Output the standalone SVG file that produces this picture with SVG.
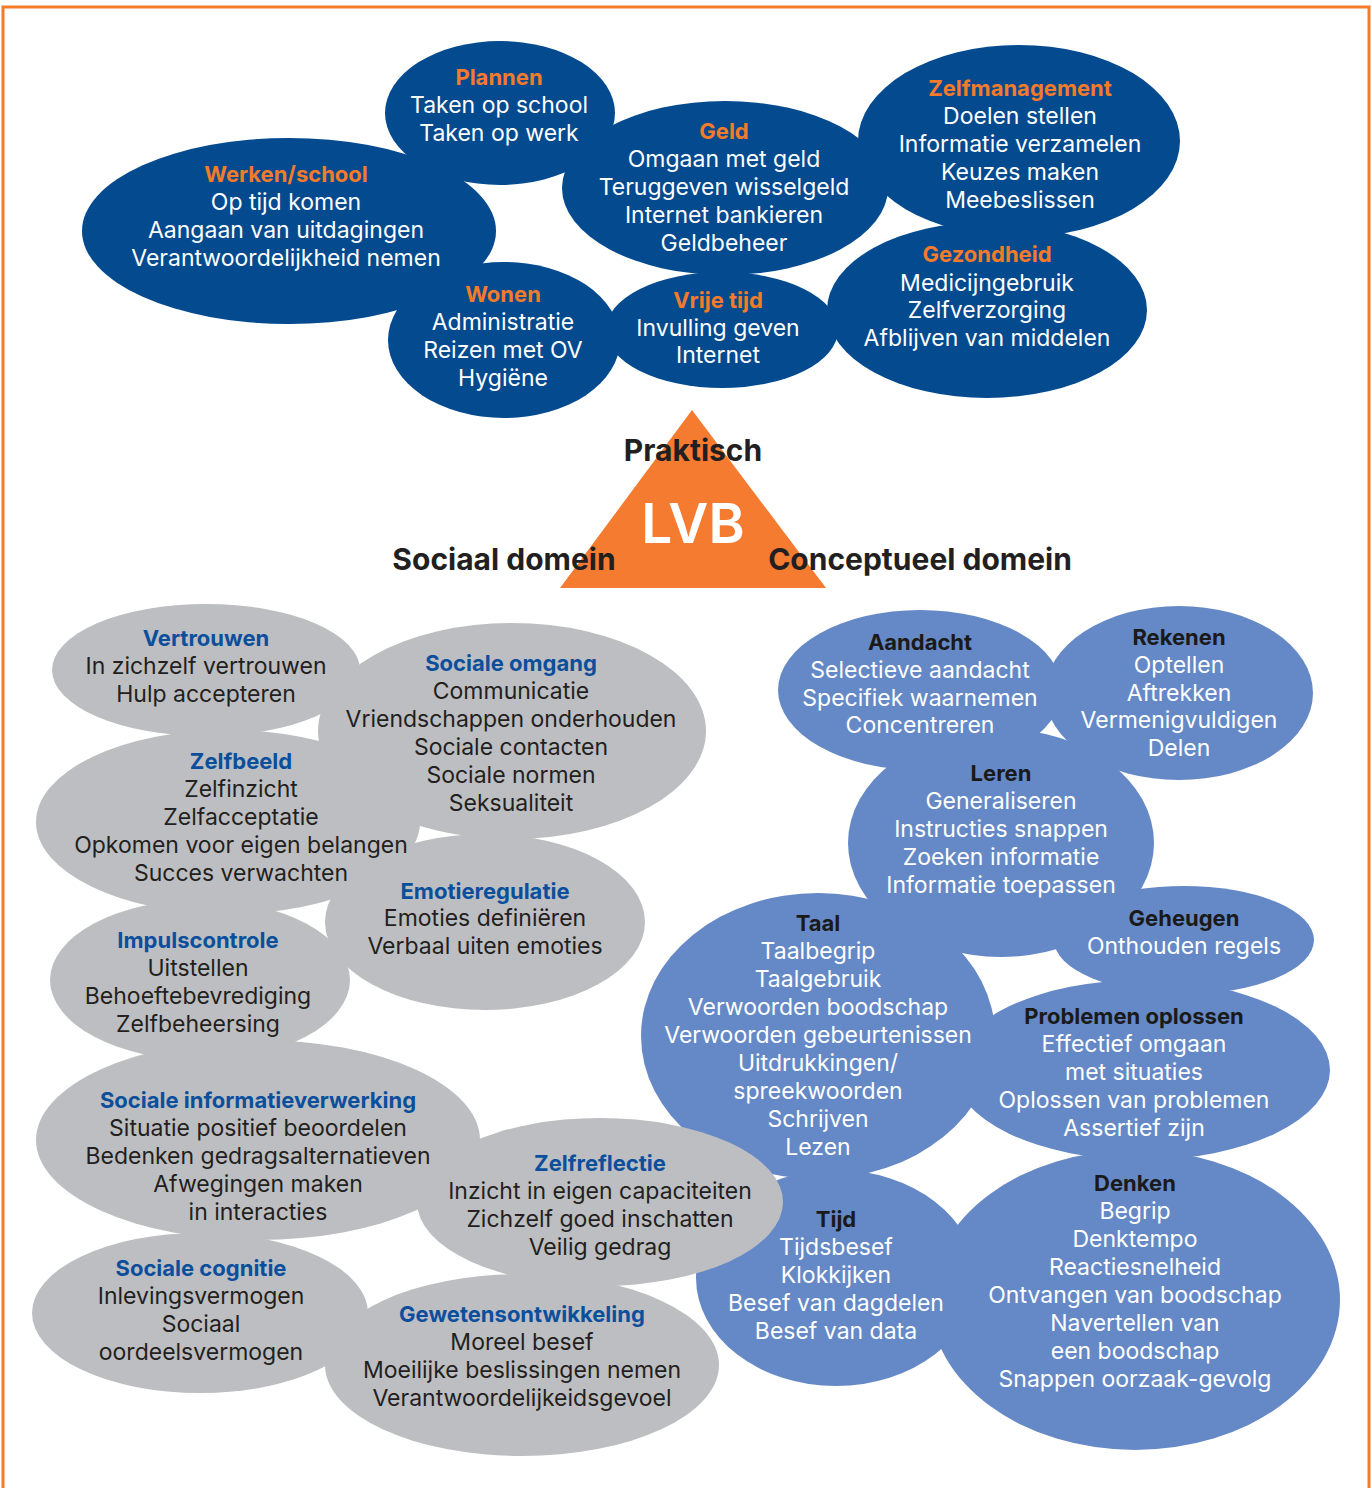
<svg xmlns="http://www.w3.org/2000/svg" width="1371" height="1488" viewBox="0 0 1371 1488">
<style>
text{font-family:Inter,"Liberation Sans",sans-serif;font-size:23px;text-anchor:middle}
.dk{fill:#034a8f}
.gr{fill:#bdbec1}
.lb{fill:#6589c6}
.ot{fill:#f47b2a;font-weight:bold;font-size:22px}
.wt{fill:#ffffff}
.bt{fill:#0b4f9c;font-weight:bold;font-size:22px}
.kt{fill:#231f20}
.ht{fill:#1a1a1a;font-weight:bold;font-size:22px}
.big{fill:#231f20;font-weight:bold;font-size:30px}
</style>
<rect x="3" y="7" width="1366" height="1490" fill="#ffffff" stroke="#f47b2a" stroke-width="3"/>

<g id="praktisch-ellipses">
<g id="plannen"><ellipse class="dk" cx="500" cy="113" rx="115" ry="72"/></g>
<g id="werken"><ellipse class="dk" cx="289" cy="231" rx="207" ry="93"/></g>
<g id="geld"><ellipse class="dk" cx="725" cy="188" rx="163" ry="87"/></g>
<g id="zelfmanagement"><ellipse class="dk" cx="1019" cy="141" rx="161" ry="96"/></g>
<g id="wonen"><ellipse class="dk" cx="504" cy="340" rx="116" ry="78"/></g>
<g id="vrijetijd"><ellipse class="dk" cx="722" cy="330" rx="116" ry="58"/></g>
<g id="gezondheid"><ellipse class="dk" cx="987" cy="310" rx="160" ry="88"/></g>
</g>
<g id="praktisch-text">
<text class="ot" x="499" y="85">Plannen</text>
<text class="wt" x="499" y="113">Taken op school</text>
<text class="wt" x="499" y="141">Taken op werk</text>
<text class="ot" x="286" y="182">Werken/school</text>
<text class="wt" x="286" y="210">Op tijd komen</text>
<text class="wt" x="286" y="238">Aangaan van uitdagingen</text>
<text class="wt" x="286" y="266">Verantwoordelijkheid nemen</text>
<text class="ot" x="724" y="139">Geld</text>
<text class="wt" x="724" y="167">Omgaan met geld</text>
<text class="wt" x="724" y="195">Teruggeven wisselgeld</text>
<text class="wt" x="724" y="223">Internet bankieren</text>
<text class="wt" x="724" y="251">Geldbeheer</text>
<text class="ot" x="1020" y="96">Zelfmanagement</text>
<text class="wt" x="1020" y="124">Doelen stellen</text>
<text class="wt" x="1020" y="152">Informatie verzamelen</text>
<text class="wt" x="1020" y="180">Keuzes maken</text>
<text class="wt" x="1020" y="208">Meebeslissen</text>
<text class="ot" x="987" y="262">Gezondheid</text>
<text class="wt" x="987" y="291">Medicijngebruik</text>
<text class="wt" x="987" y="318">Zelfverzorging</text>
<text class="wt" x="987" y="346">Afblijven van middelen</text>
<text class="ot" x="503" y="302">Wonen</text>
<text class="wt" x="503" y="330">Administratie</text>
<text class="wt" x="503" y="358">Reizen met OV</text>
<text class="wt" x="503" y="386">Hygiëne</text>
<text class="ot" x="718" y="308">Vrije tijd</text>
<text class="wt" x="718" y="336">Invulling geven</text>
<text class="wt" x="718" y="363">Internet</text>
</g>

<g id="lvb">
<polygon points="692,410 560,588 826,588" fill="#f47b30"/>
<text class="big" x="693" y="461">Praktisch</text>
<text x="693" y="543" style="fill:#ffffff;font-size:55px;font-weight:600">LVB</text>
<text class="big" x="504" y="570">Sociaal domein</text>
<text class="big" x="920" y="570">Conceptueel domein</text>
</g>

<g id="conceptueel-ellipses">
<g id="aandacht"><ellipse class="lb" cx="920" cy="690" rx="142" ry="80"/></g>
<g id="rekenen"><ellipse class="lb" cx="1179" cy="693" rx="134" ry="87"/></g>
<g id="leren"><ellipse class="lb" cx="1001" cy="843" rx="153" ry="114"/></g>
<g id="geheugen"><ellipse class="lb" cx="1184" cy="940" rx="130" ry="54"/></g>
<g id="taal"><ellipse class="lb" cx="818" cy="1036" rx="177" ry="143"/></g>
<g id="problemen"><ellipse class="lb" cx="1142" cy="1070" rx="188" ry="90"/></g>
<g id="tijd"><ellipse class="lb" cx="836" cy="1278" rx="140" ry="108"/></g>
<g id="denken"><ellipse class="lb" cx="1135" cy="1300" rx="205" ry="150"/></g>
</g>

<g id="sociaal-ellipses">
<g id="vertrouwen"><ellipse class="gr" cx="206" cy="670" rx="154" ry="66"/></g>
<g id="socialeomgang"><ellipse class="gr" cx="512" cy="731" rx="194" ry="108"/></g>
<g id="zelfbeeld"><ellipse class="gr" cx="228" cy="822" rx="192" ry="92"/></g>
<g id="emotieregulatie"><ellipse class="gr" cx="485" cy="922" rx="160" ry="88"/></g>
<g id="impulscontrole"><ellipse class="gr" cx="200" cy="980" rx="150" ry="80"/></g>
<g id="socinfo"><ellipse class="gr" cx="258" cy="1140" rx="222" ry="100"/></g>
<g id="zelfreflectie"><ellipse class="gr" cx="600" cy="1202" rx="183" ry="84"/></g>
<g id="socialecognitie"><ellipse class="gr" cx="200" cy="1313" rx="168" ry="80"/></g>
<g id="geweten"><ellipse class="gr" cx="522" cy="1365" rx="197" ry="91"/></g>
</g>

<g id="sociaal-text">
<text class="bt" x="206" y="646">Vertrouwen</text>
<text class="kt" x="206" y="674">In zichzelf vertrouwen</text>
<text class="kt" x="206" y="702">Hulp accepteren</text>
<text class="bt" x="511" y="671">Sociale omgang</text>
<text class="kt" x="511" y="699">Communicatie</text>
<text class="kt" x="511" y="727">Vriendschappen onderhouden</text>
<text class="kt" x="511" y="755">Sociale contacten</text>
<text class="kt" x="511" y="783">Sociale normen</text>
<text class="kt" x="511" y="811">Seksualiteit</text>
<text class="bt" x="241" y="769">Zelfbeeld</text>
<text class="kt" x="241" y="797">Zelfinzicht</text>
<text class="kt" x="241" y="825">Zelfacceptatie</text>
<text class="kt" x="241" y="853">Opkomen voor eigen belangen</text>
<text class="kt" x="241" y="881">Succes verwachten</text>
<text class="bt" x="485" y="899">Emotieregulatie</text>
<text class="kt" x="485" y="926">Emoties definiëren</text>
<text class="kt" x="485" y="954">Verbaal uiten emoties</text>
<text class="bt" x="198" y="948">Impulscontrole</text>
<text class="kt" x="198" y="976">Uitstellen</text>
<text class="kt" x="198" y="1004">Behoeftebevrediging</text>
<text class="kt" x="198" y="1032">Zelfbeheersing</text>
<text class="bt" x="258" y="1108">Sociale informatieverwerking</text>
<text class="kt" x="258" y="1136">Situatie positief beoordelen</text>
<text class="kt" x="258" y="1164">Bedenken gedragsalternatieven</text>
<text class="kt" x="258" y="1192">Afwegingen maken</text>
<text class="kt" x="258" y="1220">in interacties</text>
<text class="bt" x="600" y="1171">Zelfreflectie</text>
<text class="kt" x="600" y="1199">Inzicht in eigen capaciteiten</text>
<text class="kt" x="600" y="1227">Zichzelf goed inschatten</text>
<text class="kt" x="600" y="1255">Veilig gedrag</text>
<text class="bt" x="201" y="1276">Sociale cognitie</text>
<text class="kt" x="201" y="1304">Inlevingsvermogen</text>
<text class="kt" x="201" y="1332">Sociaal</text>
<text class="kt" x="201" y="1360">oordeelsvermogen</text>
<text class="bt" x="522" y="1322">Gewetensontwikkeling</text>
<text class="kt" x="522" y="1350">Moreel besef</text>
<text class="kt" x="522" y="1378">Moeilijke beslissingen nemen</text>
<text class="kt" x="522" y="1406">Verantwoordelijkeidsgevoel</text>
</g>

<g id="conceptueel-text">
<text class="ht" x="920" y="650">Aandacht</text>
<text class="wt" x="920" y="678">Selectieve aandacht</text>
<text class="wt" x="920" y="706">Specifiek waarnemen</text>
<text class="wt" x="920" y="733">Concentreren</text>
<text class="ht" x="1179" y="645">Rekenen</text>
<text class="wt" x="1179" y="673">Optellen</text>
<text class="wt" x="1179" y="701">Aftrekken</text>
<text class="wt" x="1179" y="728">Vermenigvuldigen</text>
<text class="wt" x="1179" y="756">Delen</text>
<text class="ht" x="1001" y="781">Leren</text>
<text class="wt" x="1001" y="809">Generaliseren</text>
<text class="wt" x="1001" y="837">Instructies snappen</text>
<text class="wt" x="1001" y="865">Zoeken informatie</text>
<text class="wt" x="1001" y="893">Informatie toepassen</text>
<text class="ht" x="818" y="931">Taal</text>
<text class="wt" x="818" y="959">Taalbegrip</text>
<text class="wt" x="818" y="987">Taalgebruik</text>
<text class="wt" x="818" y="1015">Verwoorden boodschap</text>
<text class="wt" x="818" y="1043">Verwoorden gebeurtenissen</text>
<text class="wt" x="818" y="1071">Uitdrukkingen/</text>
<text class="wt" x="818" y="1099">spreekwoorden</text>
<text class="wt" x="818" y="1127">Schrijven</text>
<text class="wt" x="818" y="1155">Lezen</text>
<text class="ht" x="1184" y="926">Geheugen</text>
<text class="wt" x="1184" y="954">Onthouden regels</text>
<text class="ht" x="1134" y="1024">Problemen oplossen</text>
<text class="wt" x="1134" y="1052">Effectief omgaan</text>
<text class="wt" x="1134" y="1080">met situaties</text>
<text class="wt" x="1134" y="1108">Oplossen van problemen</text>
<text class="wt" x="1134" y="1136">Assertief zijn</text>
<text class="ht" x="836" y="1227">Tijd</text>
<text class="wt" x="836" y="1255">Tijdsbesef</text>
<text class="wt" x="836" y="1283">Klokkijken</text>
<text class="wt" x="836" y="1311">Besef van dagdelen</text>
<text class="wt" x="836" y="1339">Besef van data</text>
<text class="ht" x="1135" y="1191">Denken</text>
<text class="wt" x="1135" y="1219">Begrip</text>
<text class="wt" x="1135" y="1247">Denktempo</text>
<text class="wt" x="1135" y="1275">Reactiesnelheid</text>
<text class="wt" x="1135" y="1303">Ontvangen van boodschap</text>
<text class="wt" x="1135" y="1331">Navertellen van</text>
<text class="wt" x="1135" y="1359">een boodschap</text>
<text class="wt" x="1135" y="1387">Snappen oorzaak-gevolg</text>
</g>
</svg>
